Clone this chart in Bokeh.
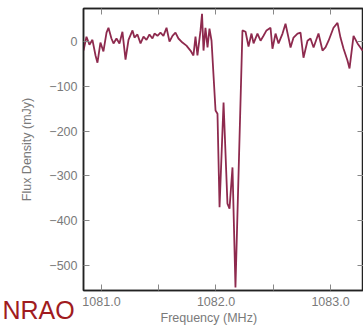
from bokeh.plotting import figure
from bokeh.models import LinearAxis, FixedTicker, Title, Range1d
from bokeh.embed import file_html
from bokeh.resources import INLINE

freq_mhz = [1080.843, 1080.869, 1080.895, 1080.921, 1080.948, 1080.965, 1080.991,
            1081.017, 1081.044, 1081.061, 1081.087, 1081.105, 1081.131, 1081.157,
            1081.183, 1081.210, 1081.236, 1081.271, 1081.288, 1081.314, 1081.341,
            1081.367, 1081.393, 1081.419, 1081.445, 1081.463, 1081.489, 1081.515,
            1081.541, 1081.568, 1081.594, 1081.620, 1081.646, 1081.672, 1081.707,
            1081.742, 1081.777, 1081.803, 1081.821, 1081.838, 1081.865, 1081.878,
            1081.891, 1081.908, 1081.926, 1081.943, 1081.961, 1081.996, 1082.013,
            1082.031, 1082.066, 1082.100, 1082.118, 1082.144, 1082.170, 1082.231,
            1082.258, 1082.284, 1082.310, 1082.328, 1082.362, 1082.389, 1082.415,
            1082.441, 1082.476, 1082.493, 1082.520, 1082.546, 1082.581, 1082.607,
            1082.633, 1082.651, 1082.677, 1082.712, 1082.738, 1082.764, 1082.799,
            1082.825, 1082.852, 1082.895, 1082.930, 1082.956, 1082.983, 1083.026,
            1083.061, 1083.087, 1083.114, 1083.148, 1083.166, 1083.201, 1083.236,
            1083.279, 1083.306]

flux_mjy = [-20, 11, -7, 4, -31, -47, -2,
            -22, 20, 31, 7, -4, 7, -4,
            22, -40, 4, 25, 9, 16, -4,
            11, 4, 16, 7, 18, 13, 20,
            13, 31, 0, 13, 20, 7, -2,
            -9, -20, -31, 11, -31, 25, 62,
            -20, 31, -13, 29, 2, -154, -161,
            -370, -136, -362, -373, -281, -549, 25,
            22, -11, 18, -4, 18, 2, 13,
            25, 31, -16, 18, -4, 18, 40,
            9, -13, 9, 18, 20, -36, 2,
            7, -13, 18, -20, -13, 2, 31,
            42, 9, -16, -42, -60, 13, -4,
            -20, -9]

x_ticks = [1081.0, 1081.5, 1082.0, 1082.5, 1083.0]
x_tick_labels = {1081.0: "1081.0", 1081.5: "", 1082.0: "1082.0", 1082.5: "", 1083.0: "1083.0"}
y_ticks = [0, -100, -200, -300, -400, -500]

x_label = "Frequency (MHz)"
y_label = "Flux Density (mJy)"
brand = "NRAO"

FONT = "Liberation Sans"
GRAY = "#7a7a7a"
FS = "12.5px"

p = figure(frame_width=280, frame_height=282, output_backend="svg", toolbar_location=None,
           x_range=Range1d(1080.843, 1083.288), y_range=Range1d(-556, 74),
           min_border_left=83, min_border_right=0, min_border_top=8, min_border_bottom=35,
           background_fill_color="white", border_fill_color="white")
p.grid.visible = False
p.outline_line_color = "#222222"
p.outline_line_width = 1.5

def style(ax, labels=True):
    ax.axis_line_color = "#222222"
    ax.axis_line_width = 1.5
    ax.major_tick_in = 6
    ax.major_tick_out = 0
    ax.minor_tick_in = 0
    ax.minor_tick_out = 0
    ax.major_tick_line_color = "#888888"
    ax.major_tick_line_width = 1
    ax.major_label_text_font = FONT
    ax.major_label_text_color = GRAY
    if labels:
        ax.major_label_text_font_size = FS
    else:
        ax.major_label_text_font_size = "0px"
        ax.major_label_standoff = 0

xa = p.xaxis[0]
xa.ticker = FixedTicker(ticks=x_ticks)
xa.major_label_overrides = x_tick_labels
style(xa)
xa.major_label_standoff = 6

ya = p.yaxis[0]
ya.ticker = FixedTicker(ticks=y_ticks)
style(ya)
ya.major_label_standoff = 6
ya.axis_label = y_label
ya.axis_label_text_font = FONT
ya.axis_label_text_font_style = "normal"
ya.axis_label_text_font_size = FS
ya.axis_label_text_color = GRAY
ya.axis_label_standoff = 12

top = LinearAxis(ticker=FixedTicker(ticks=x_ticks))
style(top, labels=False)
top.major_label_overrides = {t: "" for t in x_ticks}
p.add_layout(top, "above")

right = LinearAxis(ticker=FixedTicker(ticks=y_ticks))
style(right, labels=False)
right.major_label_overrides = {t: "" for t in y_ticks}
p.add_layout(right, "right")

p.line(freq_mhz, flux_mjy, line_color="#8e2a4e", line_width=1.8)

t_x = Title(text=x_label, align="left", offset=77, vertical_align="top", standoff=4,
            text_font=FONT, text_font_size=FS, text_color=GRAY,
            text_font_style="normal")
p.add_layout(t_x, "below")
t_brand = Title(text=brand, align="left", offset=-81, vertical_align="top", standoff=-65,
                text_font=FONT, text_font_size="25px", text_color="#a01b20",
                text_font_style="normal")
p.add_layout(t_brand, "below")

open("out.html", "w").write(file_html(p, INLINE))
